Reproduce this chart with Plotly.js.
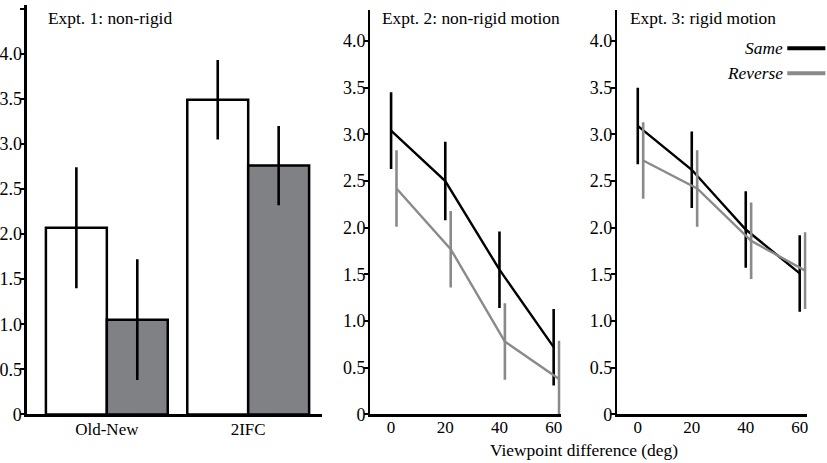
<!DOCTYPE html>
<html>
<head>
<meta charset="utf-8">
<script src="https://cdn.plot.ly/plotly-3.0.1.min.js"></script>
<style>
  html, body { margin: 0; padding: 0; background: #fff; }
  #graph { width: 827px; height: 463px; }
</style>
</head>
<body>
<div id="graph"></div>
<script>
// Expt. 1 : bars
var tasks = ['Old-New', '2IFC'];
var e1Same = [2.07, 3.49];
var e1SameErr = [0.67, 0.44];
var e1Rev = [1.05, 2.76];
var e1RevErr = [0.67, 0.44];

// Expt. 2 and 3 : viewpoint difference (deg)
var viewpoints = [0, 20, 40, 60];
var e2Same = [3.04, 2.50, 1.55, 0.72];
var e2SameErr = [0.41, 0.42, 0.41, 0.41];
var e2Rev = [2.42, 1.77, 0.78, 0.38];
var e2RevErr = [0.41, 0.41, 0.41, 0.41];
var e3Same = [3.09, 2.62, 1.98, 1.51];
var e3SameErr = [0.41, 0.41, 0.41, 0.41];
var e3Rev = [2.72, 2.42, 1.86, 1.54];
var e3RevErr = [0.41, 0.41, 0.41, 0.41];

var yTicks1 = [0, 0.5, 1, 1.5, 2, 2.5, 3, 3.5, 4, 4.5];
var yTickText1 = ['0', '0.5', '1.0', '1.5', '2.0', '2.5', '3.0', '3.5', '4.0', '4.5'];
var yTicks2 = [0, 0.5, 1, 1.5, 2, 2.5, 3, 3.5, 4];
var yTickText2 = ['0', '0.5', '1.0', '1.5', '2.0', '2.5', '3.0', '3.5', '4.0'];

var panelTitles = ['Expt. 1: non-rigid', 'Expt. 2: non-rigid motion', 'Expt. 3: rigid motion'];
var legendNames = ['Same', 'Reverse'];

var BLACK = '#000000';
var GREY = '#8a8a8a';
var BAR_GREY = '#808184';
var FONT = '"Liberation Serif", "Times New Roman", serif';
var jitter = 2; // reverse points drawn a little right

function shift(arr, d) {
    return arr.map(function (v) { return v + d; });
}

function errs(a) {
    return { type: 'data', array: a, visible: true, width: 0, thickness: 2.6 };
}

var traces = [
    {
        type: 'bar', x: tasks, y: e1Same, xaxis: 'x', yaxis: 'y',
        marker: { color: '#ffffff', line: { color: BLACK, width: 2.5 } },
        error_y: Object.assign(errs(e1SameErr), { color: BLACK })
    },
    {
        type: 'bar', x: tasks, y: e1Rev, xaxis: 'x', yaxis: 'y',
        marker: { color: BAR_GREY, line: { color: BLACK, width: 2.5 } },
        error_y: Object.assign(errs(e1RevErr), { color: BLACK })
    },
    {
        type: 'scatter', mode: 'lines', x: viewpoints, y: e2Same, xaxis: 'x2', yaxis: 'y2',
        line: { color: BLACK, width: 2.4 },
        error_y: Object.assign(errs(e2SameErr), { color: BLACK })
    },
    {
        type: 'scatter', mode: 'lines', x: shift(viewpoints, jitter), y: e2Rev, xaxis: 'x2', yaxis: 'y2',
        line: { color: GREY, width: 2.4 },
        error_y: Object.assign(errs(e2RevErr), { color: GREY })
    },
    {
        type: 'scatter', mode: 'lines', x: viewpoints, y: e3Same, xaxis: 'x3', yaxis: 'y3',
        line: { color: BLACK, width: 2.4 },
        error_y: Object.assign(errs(e3SameErr), { color: BLACK })
    },
    {
        type: 'scatter', mode: 'lines', x: shift(viewpoints, jitter), y: e3Rev, xaxis: 'x3', yaxis: 'y3',
        line: { color: GREY, width: 2.4 },
        error_y: Object.assign(errs(e3RevErr), { color: GREY })
    }
];

var axisBase = {
    showline: true, linecolor: BLACK, linewidth: 2.5,
    showgrid: false, zeroline: false, fixedrange: true,
    tickfont: { family: FONT, size: 17, color: BLACK }
};

function yAxis(range, vals, text, anchor) {
    return Object.assign({}, axisBase, {
        range: range, domain: [0.105, range[1] > 4.4 ? 0.989 : 0.978],
        tickmode: 'array', tickvals: vals, ticktext: text,
        tickfont: { family: FONT, size: 18, color: BLACK },
        ticks: 'outside', ticklen: 4, tickwidth: 2, tickcolor: BLACK,
        ticklabelstandoff: -5, anchor: anchor
    });
}

function xAxis(domain, anchor) {
    return Object.assign({}, axisBase, {
        range: [-7.6, 62.6], domain: domain, anchor: anchor,
        tickmode: 'array', tickvals: viewpoints, ticks: '', ticklabelstandoff: -4
    });
}

var ann = [
    { text: panelTitles[0], x: 0.056, y: 0.962 },
    { text: panelTitles[1], x: 0.459, y: 0.962 },
    { text: panelTitles[2], x: 0.759, y: 0.962 }
].map(function (a) {
    return {
        text: a.text, x: a.x, y: a.y, xref: 'paper', yref: 'paper',
        xanchor: 'left', yanchor: 'middle', showarrow: false,
        font: { family: FONT, size: 17.4, color: BLACK }
    };
});

ann.push({
    text: 'Viewpoint difference (deg)', x: 0.706, y: 0.028, xref: 'paper', yref: 'paper',
    xanchor: 'center', yanchor: 'middle', showarrow: false,
    font: { family: FONT, size: 17.4, color: BLACK }
});

// legend drawn by hand (text sits left of the line sample)
var legendColors = [BLACK, GREY];
var legendY = [0.896, 0.842];
var shapes = [];
legendNames.forEach(function (name, i) {
    ann.push({
        text: '<i>' + name + '</i>', x: 0.949, y: legendY[i], xref: 'paper', yref: 'paper',
        xanchor: 'right', yanchor: 'middle', showarrow: false,
        font: { family: FONT, size: 17.4, color: BLACK }
    });
    shapes.push({
        type: 'line', xref: 'paper', yref: 'paper',
        x0: 0.952, x1: 0.998, y0: legendY[i], y1: legendY[i],
        line: { color: legendColors[i], width: 4 }
    });
});

var layout = {
    width: 827, height: 463,
    margin: { l: 0, r: 0, t: 0, b: 0 },
    paper_bgcolor: '#ffffff', plot_bgcolor: '#ffffff',
    showlegend: false,
    barmode: 'group', bargap: 0.138, bargroupgap: 0,
    xaxis: Object.assign({}, axisBase, {
        type: 'category', range: [-0.565, 1.52], domain: [0.0326, 0.389],
        anchor: 'y', ticks: '', ticklabelstandoff: -2
    }),
    yaxis: yAxis([0, 4.54], yTicks1, yTickText1, 'x'),
    xaxis2: xAxis([0.448, 0.678], 'y2'),
    yaxis2: yAxis([0, 4.33], yTicks2, yTickText2, 'x2'),
    xaxis3: xAxis([0.7464, 0.9755], 'y3'),
    yaxis3: yAxis([0, 4.33], yTicks2, yTickText2, 'x3'),
    annotations: ann,
    shapes: shapes
};

Plotly.newPlot('graph', traces, layout, { staticPlot: true });
</script>
</body>
</html>
